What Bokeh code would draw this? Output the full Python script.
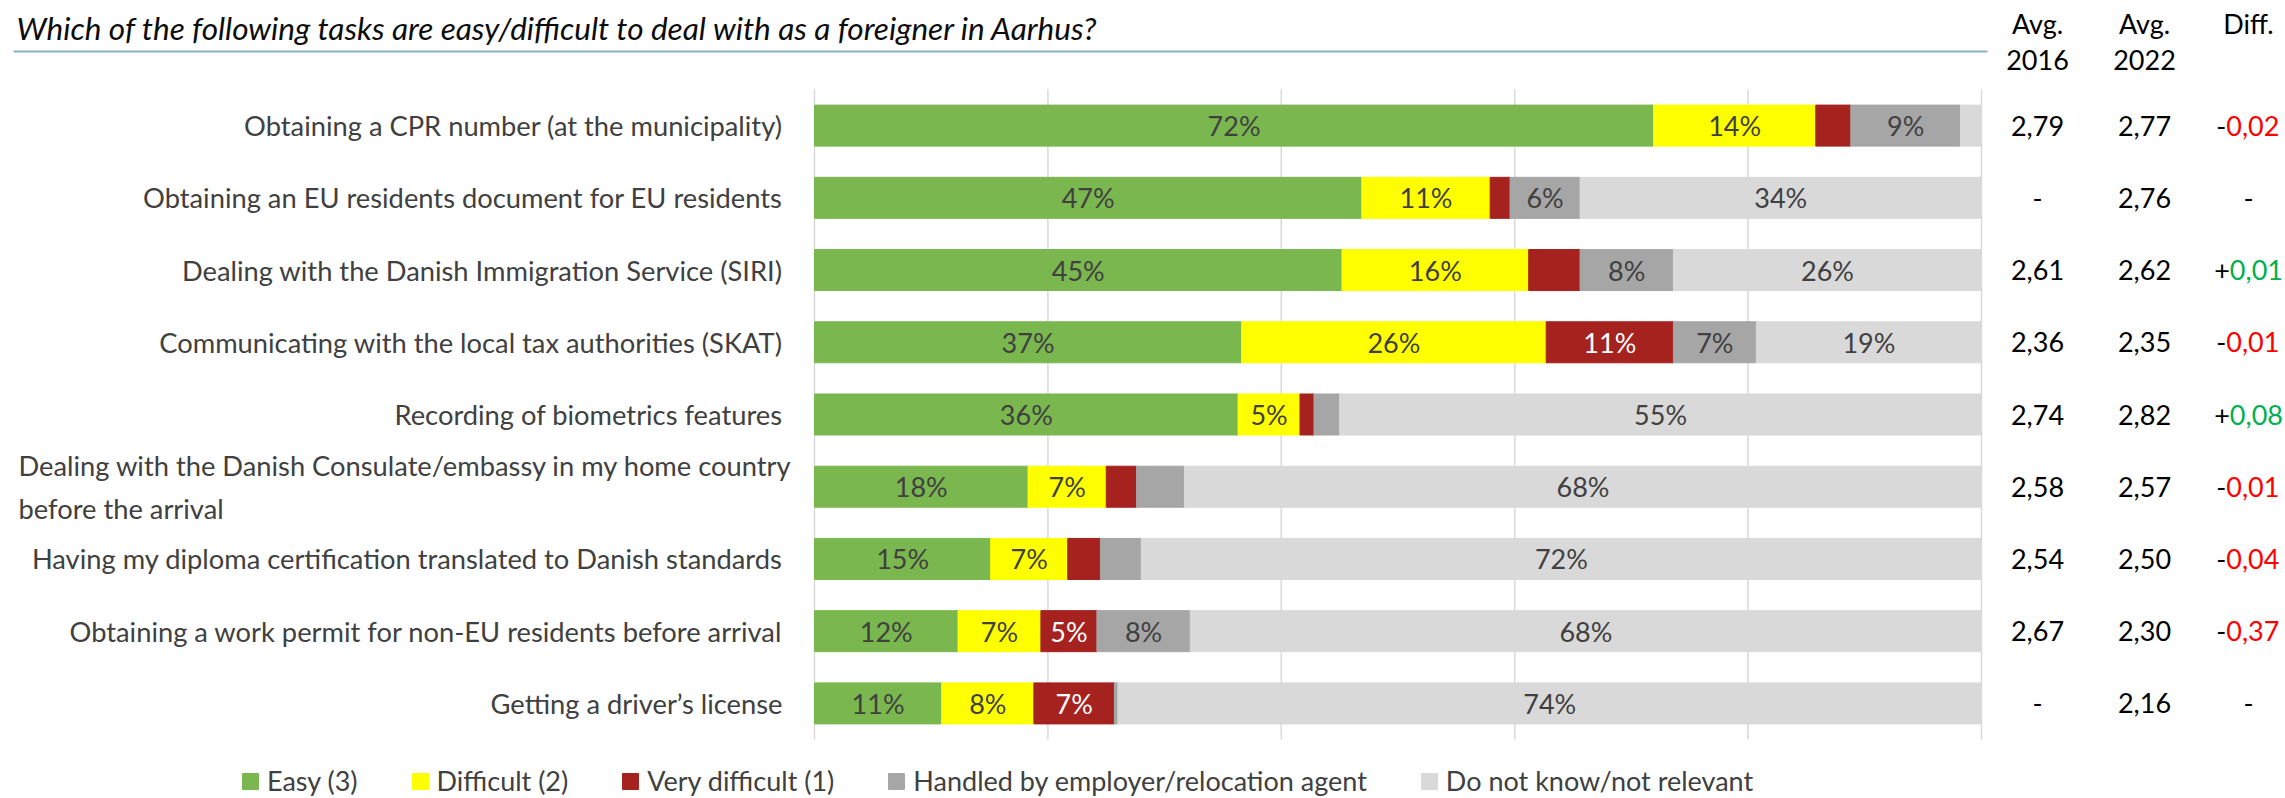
from bokeh.plotting import figure
from bokeh.models import ColumnDataSource, Range1d, Legend, LegendItem
from bokeh.core.properties import value
from bokeh.embed import file_html
from bokeh.resources import INLINE

# ---------------- data ----------------
title_text = "Which of the following tasks are easy/difficult to deal with as a foreigner in Aarhus?"
tasks = [
    "Obtaining a CPR number (at the municipality)",
    "Obtaining an EU residents document for EU residents",
    "Dealing with the Danish Immigration Service (SIRI)",
    "Communicating with the local tax authorities (SKAT)",
    "Recording of biometrics features",
    "Dealing with the Danish Consulate/embassy in my home country\nbefore the arrival",
    "Having my diploma certification translated to Danish standards",
    "Obtaining a work permit for non-EU residents before arrival",
    "Getting a driver\u2019s license",
]
series = ["Easy (3)", "Difficult (2)", "Very difficult (1)",
          "Handled by employer/relocation agent", "Do not know/not relevant"]
easy = [71.9, 46.9, 45.2, 36.6, 36.3, 18.3, 15.1, 12.3, 10.9]
difficult = [13.9, 11.0, 16.0, 26.1, 5.3, 6.7, 6.6, 7.1, 7.9]
very_difficult = [3.0, 1.7, 4.4, 10.9, 1.2, 2.6, 2.8, 4.8, 6.9]
employer = [9.4, 6.0, 8.0, 7.1, 2.2, 4.1, 3.5, 8.0, 0.3]
not_relevant = [1.8, 34.4, 26.4, 19.3, 55.0, 68.3, 72.0, 67.8, 74.0]
avg_2016 = [2.79, None, 2.61, 2.36, 2.74, 2.58, 2.54, 2.67, None]
avg_2022 = [2.77, 2.76, 2.62, 2.35, 2.82, 2.57, 2.50, 2.30, 2.16]
diff = [-0.02, None, 0.01, -0.01, 0.08, -0.01, -0.04, -0.37, None]
col_headers = [("Avg.", "2016"), ("Avg.", "2022"), ("Diff.", "")]
grid_ticks = [0, 20, 40, 60, 80, 100]

# ---------------- styling / layout ----------------
colors = ["#7ab74f", "#ffff00", "#a6221f", "#a6a6a6", "#d9d9d9"]
label_colors = ["#404040", "#404040", "#ffffff", "#404040", "#404040"]
FONT = value("Lato")
FS = "27px"
FS_CAT = "27.3px"
W, H = 2285, 798
BAR_L, BAR_R = 814.0, 1981.0          # pixel span of 0..100 %
PLOT_T, PLOT_B = 89.0, 739.0           # pixel span of the category bands
PXX = (BAR_R - BAR_L) / 100.0
PXY = (PLOT_B - PLOT_T) / len(tasks)


def X(px):
    return (px - BAR_L) / PXX


def R(py):
    return (py - PLOT_T) / PXY - 0.5


def fmt(v):
    return "-" if v is None else f"{v:.2f}".replace(".", ",")


p = figure(width=W, height=H, x_range=Range1d(X(0), X(W)), y_range=Range1d(R(H), R(0)),
           output_backend="svg", toolbar_location=None,
           x_axis_location=None, y_axis_location=None, min_border=0)
p.outline_line_color = None
p.xgrid.visible = False
p.ygrid.visible = False

rows = list(range(len(tasks)))

# vertical grid lines
p.segment(x0=grid_ticks, x1=grid_ticks, y0=[-0.5] * len(grid_ticks),
          y1=[len(tasks) - 0.5] * len(grid_ticks), line_color="#d9d9d9", line_width=1.5)

keys = ["easy", "difficult", "very_difficult", "employer", "not_relevant"]
vals = [easy, difficult, very_difficult, employer, not_relevant]
src = ColumnDataSource(dict(row=rows, **{k: v for k, v in zip(keys, vals)}))
renderers = p.hbar_stack(keys, y="row", height=0.568, color=colors, source=src)

# percent labels inside the bars
cum = [0.0] * len(tasks)
for v, lc in zip(vals, label_colors):
    xs, ys, tx = [], [], []
    for i, val in enumerate(v):
        if val >= 4.5:
            xs.append(cum[i] + val / 2.0)
            ys.append(rows[i])
            tx.append(f"{round(val)}%")
        cum[i] += val
    p.text(x=xs, y=ys, text=tx, text_align="center", text_baseline="middle",
           text_color=lc, text_font=FONT, text_font_size=FS)

# category labels
single = [(i, t) for i, t in zip(rows, tasks) if "\n" not in t]
multi = [(i, t) for i, t in zip(rows, tasks) if "\n" in t]
p.text(x=X(782), y=[i for i, _ in single], text=[t for _, t in single],
       text_align="right", text_baseline="middle", text_color="#404040",
       text_font=FONT, text_font_size=FS_CAT)
p.text(x=X(18), y=[i for i, _ in multi], text=[t for _, t in multi],
       text_align="left", text_baseline="middle", text_color="#404040",
       text_font=FONT, text_font_size=FS_CAT, text_line_height=1.3)

# title and rule under it
p.text(x=[X(16)], y=[R(27)], text=[title_text], text_align="left", text_baseline="middle",
       text_color="#0d0d0d", text_font=FONT, text_font_style="italic", text_font_size="31.5px")
p.segment(x0=[X(13)], x1=[X(1987)], y0=[R(51)], y1=[R(51)], line_color="#84b4c0", line_width=2)

# right-hand table
col_x = [2037, 2144, 2248]
hx, hy, ht = [], [], []
for (h1, h2), cx in zip(col_headers, col_x):
    hx.append(X(cx)); hy.append(R(23)); ht.append(h1)
    if h2:
        hx.append(X(cx)); hy.append(R(59)); ht.append(h2)
p.text(x=hx, y=hy, text=ht, text_align="center", text_baseline="middle",
       text_color="#000000", text_font=FONT, text_font_size=FS)

for col, cx in zip([avg_2016, avg_2022], col_x[:2]):
    p.text(x=X(cx), y=rows, text=[fmt(v) for v in col], text_align="center",
           text_baseline="middle", text_color="#000000", text_font=FONT, text_font_size=FS)

fs_px = 27.0
w_num = fs_px * (3 * 0.58 + 0.22)
s_y, s_t, n_x, n_t, n_c, d_y = [], [], [], [], [], []
for i, d in zip(rows, diff):
    if d is None:
        d_y.append(i)
        continue
    s = "+" if d > 0 else "-"
    ws = fs_px * (0.58 if s == "+" else 0.31)
    start = col_x[2] - (ws + w_num) / 2.0 + ws
    s_y.append(i); s_t.append(s)
    n_x.append(X(start)); n_t.append(f"{abs(d):.2f}".replace(".", ","))
    n_c.append("#00b050" if d > 0 else "#ff0000")
p.text(x=n_x, y=s_y, text=s_t, text_align="right", text_baseline="middle",
       text_color="#000000", text_font=FONT, text_font_size=FS)
p.text(x="x", y="y", text="t", source=ColumnDataSource(dict(x=n_x, y=s_y, t=n_t, c=n_c)),
       text_align="left", text_baseline="middle", text_color="c",
       text_font=FONT, text_font_size=FS)
p.text(x=X(col_x[2]), y=d_y, text=["-"] * len(d_y), text_align="center",
       text_baseline="middle", text_color="#000000", text_font=FONT, text_font_size=FS)

# legend
legend = Legend(items=[LegendItem(label=s, renderers=[r]) for s, r in zip(series, renderers)],
                orientation="horizontal", location=(240, 1),
                padding=0, margin=0, spacing=52, label_standoff=7,
                glyph_width=20, glyph_height=20, label_height=20,
                border_line_alpha=0, background_fill_alpha=0,
                label_text_font="Lato", label_text_font_size=FS, label_text_color="#404040")
p.add_layout(legend)

open("out.html", "w").write(file_html(p, INLINE))
